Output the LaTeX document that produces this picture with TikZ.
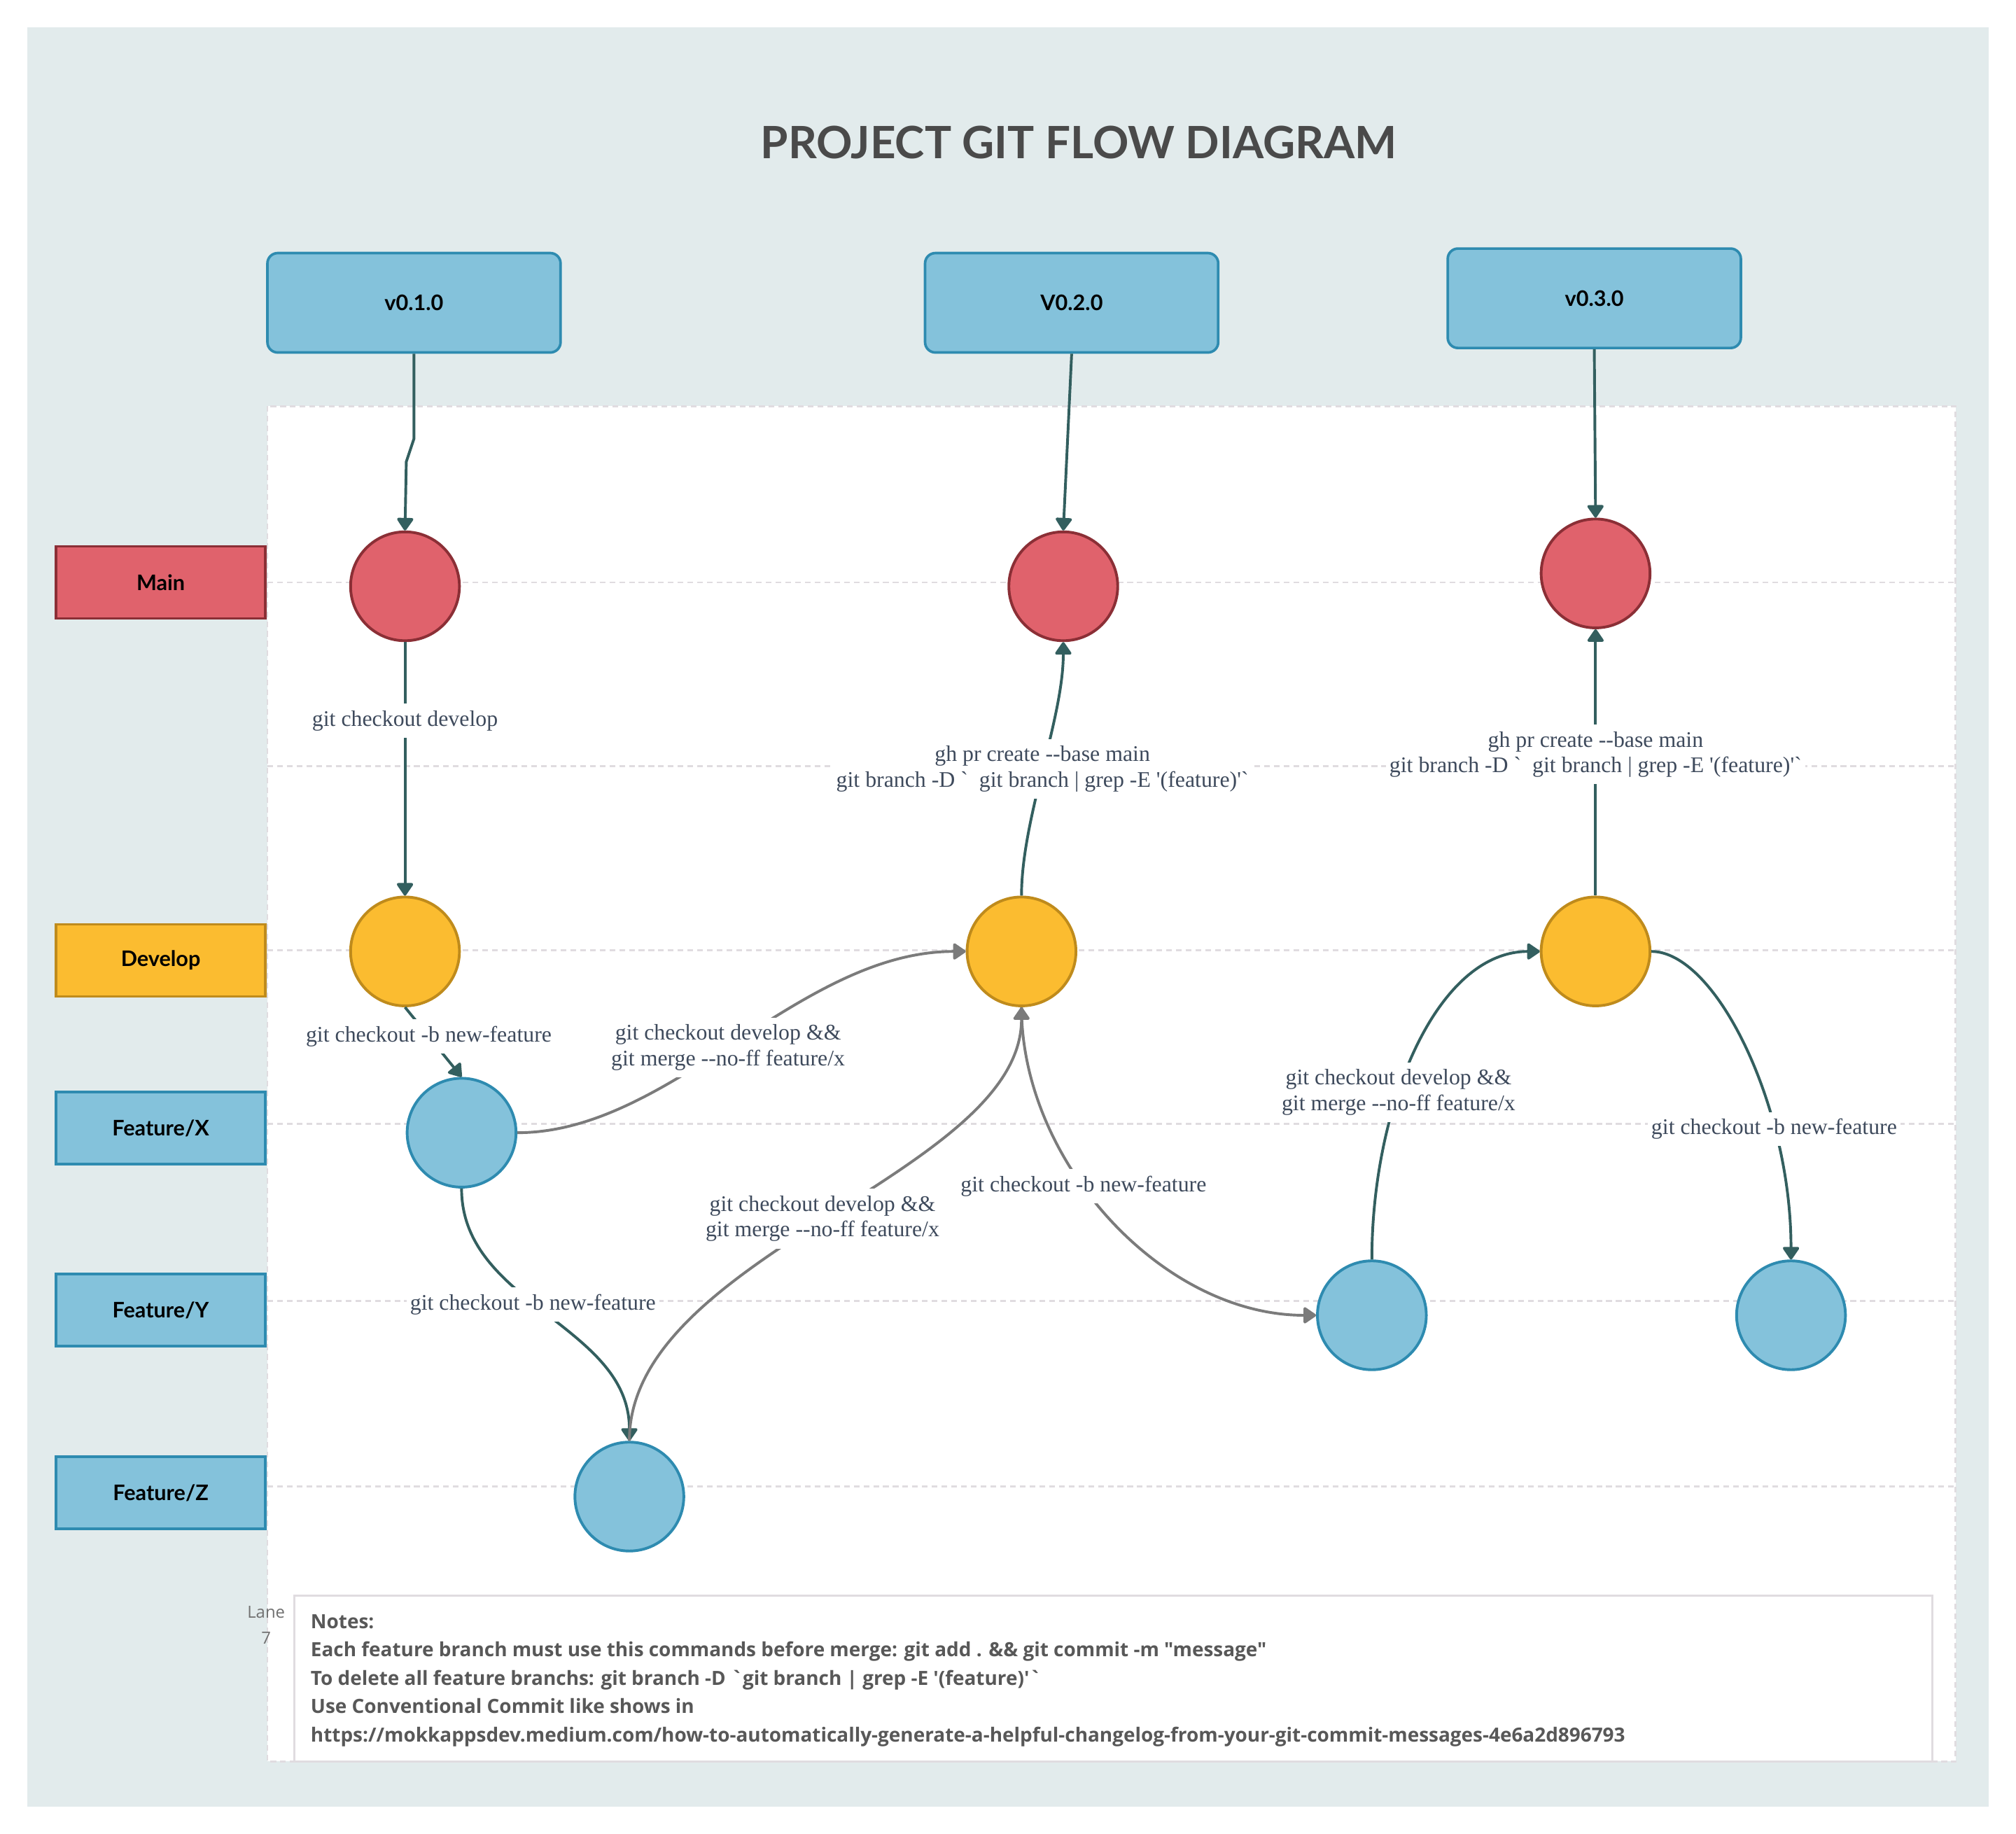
\documentclass[tikz,border=0pt]{standalone}
\usepackage{fontspec}
\setmainfont{Liberation Serif}[Ligatures=TeXOff]
\newfontfamily\latofont{Lato}
\newfontfamily\notefont{Open Sans}[Ligatures=TeXOff]
\usetikzlibrary{arrows.meta}

\definecolor{bgblue}{HTML}{E2EBEC}
\definecolor{lanegray}{HTML}{E0DCE0}
\definecolor{flowteal}{HTML}{335F5F}
\definecolor{mergegray}{HTML}{7B7B7B}
\definecolor{mainred}{HTML}{E0626C}
\definecolor{mainredline}{HTML}{8B2F36}
\definecolor{devyellow}{HTML}{FBBC30}
\definecolor{devyellowline}{HTML}{BF8B1C}
\definecolor{featblue}{HTML}{84C2DB}
\definecolor{featblueline}{HTML}{2E8BB0}
\definecolor{lbltext}{HTML}{3E4A5C}
\definecolor{titlegray}{HTML}{4A4A4A}
\definecolor{notegray}{HTML}{585858}

\begin{document}
\begin{tikzpicture}[x=0.75pt, y=-0.75pt,
    lanebox/.style={draw, line width=1.5pt, minimum width=122pt, minimum height=42pt, inner sep=0pt,
        font=\latofont\bfseries\fontsize{12.5}{15}\selectfont},
    tagbox/.style={draw=featblueline, fill=featblue, line width=1.5pt, rounded corners=6pt,
        minimum width=171pt, minimum height=58pt, font=\latofont\bfseries\fontsize{12.5}{15}\selectfont},
    commit/.style={circle, draw, line width=1.6pt, minimum size=63.5pt, inner sep=0pt},
    flow/.style={draw=flowteal, line width=1.6pt, -{Triangle[length=8pt, width=10.5pt, round]}},
    merge/.style={flow, draw=mergegray},
    lbl/.style={fill=white, text=lbltext, inner xsep=2pt, inner ysep=4pt, align=center,
        font=\fontsize{13}{15}\selectfont},
    laneline/.style={draw=lanegray, line width=1.1pt, dash pattern=on 3.3pt off 2.4pt}]

    \useasboundingbox (0,0) rectangle (1568,1426.4);

    % background and swimlane area
    \fill[bgblue] (21,21) rectangle (1547,1405);
    \draw[laneline, fill=white] (208,316) rectangle (1521,1370);
    \foreach \y in {453,596,739,874,1012,1156}
        \draw[laneline] (208,\y) -- (1521,\y);

    \node[font=\latofont\bfseries\fontsize{26}{30}\selectfont, text=titlegray] (title) at (839,111) {PROJECT GIT FLOW DIAGRAM};

    % lane labels
    \node[lanebox, draw=mainredline, fill=mainred] (lmain) at (125,453) {Main};
    \node[lanebox, draw=devyellowline, fill=devyellow] (ldev) at (125,747) {Develop};
    \node[lanebox, draw=featblueline, fill=featblue] (lfx) at (125,877.5) {Feature/X};
    \node[lanebox, draw=featblueline, fill=featblue] (lfy) at (125,1019) {Feature/Y};
    \node[lanebox, draw=featblueline, fill=featblue] (lfz) at (125,1161) {Feature/Z};

    % release tags
    \node[tagbox] (v1) at (322,235.5) {v0.1.0};
    \node[tagbox] (v2) at (833.5,235.5) {V0.2.0};
    \node[tagbox] (v3) at (1240,232) {v0.3.0};

    % commits
    \node[commit, draw=mainredline, fill=mainred] (m1) at (315,456) {};
    \node[commit, draw=mainredline, fill=mainred] (m2) at (827,456) {};
    \node[commit, draw=mainredline, fill=mainred] (m3) at (1241,446) {};
    \node[commit, draw=devyellowline, fill=devyellow] (dv1) at (315,740) {};
    \node[commit, draw=devyellowline, fill=devyellow] (dv2) at (794.5,740) {};
    \node[commit, draw=devyellowline, fill=devyellow] (dv3) at (1241,740) {};
    \node[commit, draw=featblueline, fill=featblue] (fx) at (359,881) {};
    \node[commit, draw=featblueline, fill=featblue] (fy1) at (1067,1023) {};
    \node[commit, draw=featblueline, fill=featblue] (fy2) at (1393,1023) {};
    \node[commit, draw=featblueline, fill=featblue] (fz) at (489.5,1164) {};

    % tags down to main
    \draw[flow] (v1.south) -- ++(0,66) -- ++(-6,18) -- (m1.north);
    \draw[flow] (v2.south) -- (m2.north);
    \draw[flow] (v3.south) -- (m3.north);

    % branch and merge steps
    \draw[flow] (m1.south) -- (dv1.north) node[lbl, pos=0.31] {git checkout develop};
    \draw[flow] (dv1.south) -- (fx.north) node[lbl, pos=0.42] {git checkout -b new-feature};
    \draw[merge] (fx.east) .. controls +(120,0) and +(-130,0) .. (dv2.west)
        node[lbl, pos=0.48] {git checkout develop \&\&\\git merge --no-ff feature/x};
    \draw[flow] (fx.south) .. controls +(0,90) and +(0,-90) .. (fz.north)
        node[lbl, pos=0.45] {git checkout -b new-feature};
    \draw[merge] (fz.north) .. controls +(0,-145) and +(0,130) .. (dv2.south)
        node[lbl, pos=0.495] {git checkout develop \&\&\\git merge --no-ff feature/x};
    \draw[merge] (dv2.south) .. controls +(0,120) and +(-120,0) .. (fy1.west)
        node[lbl, pos=0.41] {git checkout -b new-feature};
    \draw[flow] (dv2.north) .. controls +(0,-60) and +(0,60) .. (m2.south)
        node[lbl, pos=0.5] {gh pr create --base main\\git branch -D `\ \ git branch | grep -E '(feature)'`};
    \draw[flow] (fy1.north) .. controls +(0,-120) and +(-80,0) .. (dv3.west)
        node[lbl, pos=0.38] {git checkout develop \&\&\\git merge --no-ff feature/x};
    \draw[flow] (dv3.east) .. controls +(50,0) and +(0,-120) .. (fy2.north)
        node[lbl, pos=0.71] {git checkout -b new-feature};
    \draw[flow] (dv3.north) -- (m3.south)
        node[lbl, pos=0.53] {gh pr create --base main\\git branch -D `\ \ git branch | grep -E '(feature)'`};

    % notes
    \draw[draw=lanegray, line width=1.5pt, fill=white] (229,1241) rectangle (1503,1370);
    \node[font=\notefont\fontsize{9.75}{15}\selectfont, text=notegray!85, align=center] (lanetag) at (207,1264) {Lane\\7};
    \node[anchor=west, align=left, text=notegray, font=\notefont\bfseries\fontsize{11.4}{16.5}\selectfont] (notes) at (237,1307)
        {Notes:\\
        Each feature branch must use this commands before merge: git add . \&\& git commit -m "message"\\
        To delete all feature branchs: git branch -D `git branch | grep -E '(feature)'`\\
        Use Conventional Commit like shows in\\
        https://mokkappsdev.medium.com/how-to-automatically-generate-a-helpful-changelog-from-your-git-commit-messages-4e6a2d896793};
\end{tikzpicture}
\end{document}
